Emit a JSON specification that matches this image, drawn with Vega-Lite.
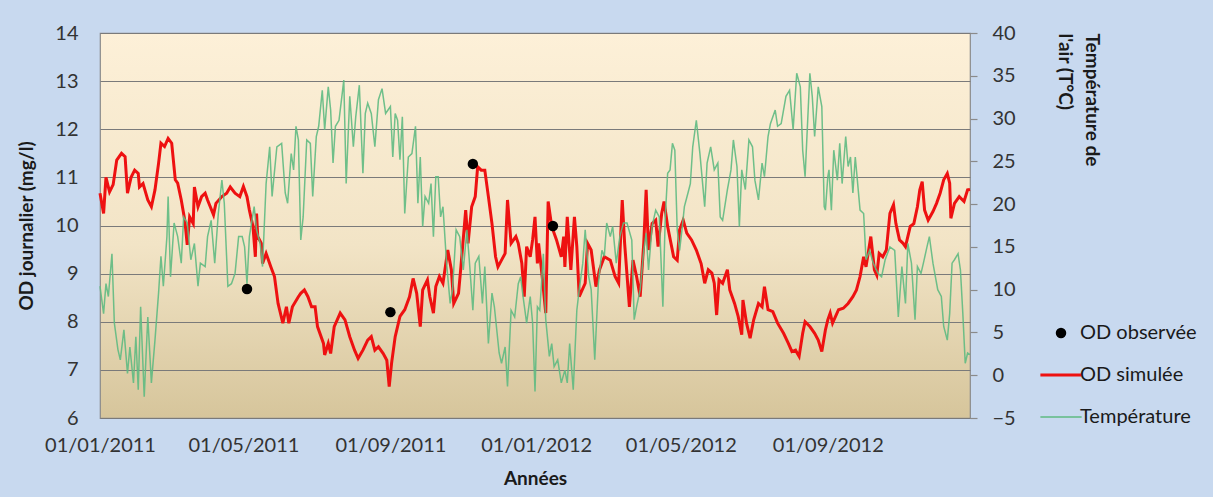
{
  "$schema": "https://vega.github.io/schema/vega-lite/v6.json",
  "width": 870,
  "height": 385,
  "autosize": {"type": "none"},
  "padding": {"left": 100, "top": 33, "right": 243, "bottom": 79},
  "background": "#C8D9EF",
  "config": {
    "font": "Lato",
    "view": {
      "stroke": "#8A8A8A",
      "strokeWidth": 1.2,
      "fill": {"gradient": "linear", "x1": 0, "y1": 0, "x2": 0, "y2": 1,
        "stops": [{"offset": 0, "color": "#FDF0D8"}, {"offset": 0.55, "color": "#F2E4C6"}, {"offset": 1, "color": "#D6C59B"}]}
    },
    "axis": {"labelFont": "Lato", "labelFontSize": 20, "labelColor": "#333333", "titleFont": "Lato", "titleFontSize": 19, "titleFontWeight": "bold", "titleColor": "#1A1A1A"}
  },
  "datasets": {
    "sim": [
      {"date": "2011-01-01", "od": 10.67}, {"date": "2011-01-04", "od": 10.25}, {"date": "2011-01-06", "od": 11.0}, {"date": "2011-01-09", "od": 10.7},
      {"date": "2011-01-12", "od": 10.85}, {"date": "2011-01-15", "od": 11.36}, {"date": "2011-01-19", "od": 11.5}, {"date": "2011-01-22", "od": 11.43},
      {"date": "2011-01-24", "od": 10.67}, {"date": "2011-01-27", "od": 11.0}, {"date": "2011-01-30", "od": 11.15}, {"date": "2011-02-02", "od": 11.08},
      {"date": "2011-02-03", "od": 10.8}, {"date": "2011-02-06", "od": 10.87}, {"date": "2011-02-10", "od": 10.53}, {"date": "2011-02-13", "od": 10.39},
      {"date": "2011-02-16", "od": 10.74}, {"date": "2011-02-19", "od": 11.29}, {"date": "2011-02-21", "od": 11.71}, {"date": "2011-02-24", "od": 11.64},
      {"date": "2011-02-27", "od": 11.81}, {"date": "2011-03-02", "od": 11.71}, {"date": "2011-03-05", "od": 10.95}, {"date": "2011-03-07", "od": 10.88},
      {"date": "2011-03-10", "od": 10.53}, {"date": "2011-03-13", "od": 10.1}, {"date": "2011-03-15", "od": 9.6}, {"date": "2011-03-17", "od": 10.18},
      {"date": "2011-03-20", "od": 10.04}, {"date": "2011-03-21", "od": 10.8}, {"date": "2011-03-24", "od": 10.39}, {"date": "2011-03-27", "od": 10.6},
      {"date": "2011-03-30", "od": 10.67}, {"date": "2011-04-01", "od": 10.53}, {"date": "2011-04-06", "od": 10.22}, {"date": "2011-04-08", "od": 10.46},
      {"date": "2011-04-13", "od": 10.6}, {"date": "2011-04-17", "od": 10.67}, {"date": "2011-04-20", "od": 10.8}, {"date": "2011-04-24", "od": 10.67},
      {"date": "2011-04-28", "od": 10.6}, {"date": "2011-05-01", "od": 10.81}, {"date": "2011-05-04", "od": 10.6}, {"date": "2011-05-06", "od": 10.32},
      {"date": "2011-05-09", "od": 9.98}, {"date": "2011-05-11", "od": 9.35}, {"date": "2011-05-12", "od": 10.25}, {"date": "2011-05-13", "od": 9.77},
      {"date": "2011-05-16", "od": 9.63}, {"date": "2011-05-17", "od": 9.21}, {"date": "2011-05-20", "od": 9.42}, {"date": "2011-05-24", "od": 9.14},
      {"date": "2011-05-27", "od": 8.94}, {"date": "2011-05-30", "od": 8.38}, {"date": "2011-06-03", "od": 7.97}, {"date": "2011-06-06", "od": 8.31},
      {"date": "2011-06-08", "od": 7.97}, {"date": "2011-06-11", "od": 8.31}, {"date": "2011-06-16", "od": 8.52}, {"date": "2011-06-18", "od": 8.59},
      {"date": "2011-06-21", "od": 8.66}, {"date": "2011-06-24", "od": 8.52}, {"date": "2011-06-27", "od": 8.31}, {"date": "2011-06-30", "od": 8.31},
      {"date": "2011-07-02", "od": 7.9}, {"date": "2011-07-07", "od": 7.55}, {"date": "2011-07-08", "od": 7.31}, {"date": "2011-07-11", "od": 7.55},
      {"date": "2011-07-13", "od": 7.34}, {"date": "2011-07-16", "od": 7.9}, {"date": "2011-07-21", "od": 8.18}, {"date": "2011-07-25", "od": 8.04},
      {"date": "2011-07-29", "od": 7.69}, {"date": "2011-08-02", "od": 7.41}, {"date": "2011-08-05", "od": 7.24}, {"date": "2011-08-09", "od": 7.41},
      {"date": "2011-08-13", "od": 7.62}, {"date": "2011-08-16", "od": 7.69}, {"date": "2011-08-19", "od": 7.41}, {"date": "2011-08-22", "od": 7.48},
      {"date": "2011-08-26", "od": 7.34}, {"date": "2011-08-29", "od": 7.2}, {"date": "2011-08-31", "od": 6.65}, {"date": "2011-09-02", "od": 7.14},
      {"date": "2011-09-05", "od": 7.69}, {"date": "2011-09-09", "od": 8.11}, {"date": "2011-09-13", "od": 8.25}, {"date": "2011-09-17", "od": 8.52},
      {"date": "2011-09-20", "od": 8.9}, {"date": "2011-09-23", "od": 8.59}, {"date": "2011-09-26", "od": 7.9}, {"date": "2011-09-28", "od": 8.66},
      {"date": "2011-10-02", "od": 8.87}, {"date": "2011-10-04", "od": 8.52}, {"date": "2011-10-07", "od": 8.18}, {"date": "2011-10-09", "od": 8.73},
      {"date": "2011-10-12", "od": 8.94}, {"date": "2011-10-15", "od": 8.8}, {"date": "2011-10-19", "od": 9.49}, {"date": "2011-10-22", "od": 9.08},
      {"date": "2011-10-24", "od": 8.38}, {"date": "2011-10-28", "od": 8.59}, {"date": "2011-10-30", "od": 9.14}, {"date": "2011-11-03", "od": 10.32},
      {"date": "2011-11-05", "od": 9.63}, {"date": "2011-11-08", "od": 10.39}, {"date": "2011-11-11", "od": 10.6}, {"date": "2011-11-13", "od": 11.22},
      {"date": "2011-11-16", "od": 11.15}, {"date": "2011-11-19", "od": 11.15}, {"date": "2011-11-22", "od": 10.6}, {"date": "2011-11-25", "od": 10.04},
      {"date": "2011-11-28", "od": 9.35}, {"date": "2011-11-30", "od": 9.14}, {"date": "2011-12-03", "od": 9.28}, {"date": "2011-12-06", "od": 9.42},
      {"date": "2011-12-08", "od": 10.53}, {"date": "2011-12-11", "od": 9.63}, {"date": "2011-12-15", "od": 9.77}, {"date": "2011-12-17", "od": 9.63},
      {"date": "2011-12-20", "od": 9.21}, {"date": "2011-12-22", "od": 8.52}, {"date": "2011-12-24", "od": 9.56}, {"date": "2011-12-27", "od": 9.35},
      {"date": "2011-12-29", "od": 9.7}, {"date": "2011-12-31", "od": 10.18}, {"date": "2012-01-02", "od": 9.21}, {"date": "2012-01-03", "od": 9.63},
      {"date": "2012-01-06", "od": 8.94}, {"date": "2012-01-09", "od": 8.18}, {"date": "2012-01-11", "od": 10.5}, {"date": "2012-01-14", "od": 9.98},
      {"date": "2012-01-18", "od": 9.7}, {"date": "2012-01-22", "od": 9.35}, {"date": "2012-01-24", "od": 9.77}, {"date": "2012-01-25", "od": 9.14},
      {"date": "2012-01-27", "od": 10.18}, {"date": "2012-01-30", "od": 9.08}, {"date": "2012-02-02", "od": 10.18}, {"date": "2012-02-04", "od": 9.56},
      {"date": "2012-02-06", "od": 8.52}, {"date": "2012-02-11", "od": 8.8}, {"date": "2012-02-13", "od": 9.63}, {"date": "2012-02-16", "od": 9.49},
      {"date": "2012-02-20", "od": 8.73}, {"date": "2012-02-23", "od": 9.08}, {"date": "2012-02-27", "od": 9.35}, {"date": "2012-03-03", "od": 9.28},
      {"date": "2012-03-07", "od": 8.94}, {"date": "2012-03-10", "od": 8.8}, {"date": "2012-03-13", "od": 10.53}, {"date": "2012-03-15", "od": 9.63},
      {"date": "2012-03-19", "od": 8.31}, {"date": "2012-03-22", "od": 9.28}, {"date": "2012-03-25", "od": 8.94}, {"date": "2012-03-28", "od": 8.52},
      {"date": "2012-03-31", "od": 9.63}, {"date": "2012-04-02", "od": 10.74}, {"date": "2012-04-04", "od": 9.49}, {"date": "2012-04-07", "od": 10.04},
      {"date": "2012-04-10", "od": 10.11}, {"date": "2012-04-12", "od": 9.56}, {"date": "2012-04-15", "od": 10.25}, {"date": "2012-04-17", "od": 10.5},
      {"date": "2012-04-20", "od": 9.98}, {"date": "2012-04-25", "od": 9.35}, {"date": "2012-04-28", "od": 9.28}, {"date": "2012-04-30", "od": 9.91},
      {"date": "2012-05-03", "od": 10.11}, {"date": "2012-05-06", "od": 9.84}, {"date": "2012-05-10", "od": 9.7}, {"date": "2012-05-14", "od": 9.49},
      {"date": "2012-05-18", "od": 9.21}, {"date": "2012-05-21", "od": 8.8}, {"date": "2012-05-24", "od": 9.08}, {"date": "2012-05-27", "od": 9.01},
      {"date": "2012-05-29", "od": 8.8}, {"date": "2012-05-31", "od": 8.14}, {"date": "2012-06-02", "od": 8.87}, {"date": "2012-06-05", "od": 8.8},
      {"date": "2012-06-09", "od": 9.08}, {"date": "2012-06-11", "od": 8.66}, {"date": "2012-06-15", "od": 8.38}, {"date": "2012-06-18", "od": 8.11},
      {"date": "2012-06-21", "od": 7.73}, {"date": "2012-06-22", "od": 8.45}, {"date": "2012-06-25", "od": 7.97}, {"date": "2012-06-28", "od": 7.66},
      {"date": "2012-07-01", "od": 8.04}, {"date": "2012-07-05", "od": 8.38}, {"date": "2012-07-08", "od": 8.31}, {"date": "2012-07-10", "od": 8.73},
      {"date": "2012-07-13", "od": 8.25}, {"date": "2012-07-17", "od": 8.21}, {"date": "2012-07-21", "od": 7.97}, {"date": "2012-07-26", "od": 7.76},
      {"date": "2012-07-30", "od": 7.55}, {"date": "2012-08-02", "od": 7.38}, {"date": "2012-08-05", "od": 7.41}, {"date": "2012-08-08", "od": 7.28},
      {"date": "2012-08-11", "od": 7.76}, {"date": "2012-08-13", "od": 8.0}, {"date": "2012-08-17", "od": 7.9}, {"date": "2012-08-21", "od": 7.76},
      {"date": "2012-08-24", "od": 7.62}, {"date": "2012-08-27", "od": 7.38}, {"date": "2012-08-30", "od": 7.83}, {"date": "2012-09-01", "od": 8.04},
      {"date": "2012-09-03", "od": 8.18}, {"date": "2012-09-05", "od": 7.97}, {"date": "2012-09-10", "od": 8.25}, {"date": "2012-09-14", "od": 8.28},
      {"date": "2012-09-18", "od": 8.38}, {"date": "2012-09-22", "od": 8.52}, {"date": "2012-09-25", "od": 8.66}, {"date": "2012-09-28", "od": 8.94},
      {"date": "2012-10-01", "od": 9.35}, {"date": "2012-10-03", "od": 9.14}, {"date": "2012-10-07", "od": 9.77}, {"date": "2012-10-10", "od": 9.08},
      {"date": "2012-10-12", "od": 8.97}, {"date": "2012-10-14", "od": 9.42}, {"date": "2012-10-17", "od": 9.35}, {"date": "2012-10-20", "od": 9.49},
      {"date": "2012-10-23", "od": 10.25}, {"date": "2012-10-26", "od": 10.43}, {"date": "2012-10-28", "od": 10.04}, {"date": "2012-10-31", "od": 9.7},
      {"date": "2012-11-03", "od": 9.63}, {"date": "2012-11-05", "od": 9.56}, {"date": "2012-11-09", "od": 9.98}, {"date": "2012-11-12", "od": 10.04},
      {"date": "2012-11-15", "od": 10.39}, {"date": "2012-11-17", "od": 10.74}, {"date": "2012-11-19", "od": 10.91}, {"date": "2012-11-21", "od": 10.32},
      {"date": "2012-11-24", "od": 10.11}, {"date": "2012-11-28", "od": 10.29}, {"date": "2012-12-01", "od": 10.46}, {"date": "2012-12-04", "od": 10.67},
      {"date": "2012-12-07", "od": 10.95}, {"date": "2012-12-10", "od": 11.08}, {"date": "2012-12-12", "od": 10.88}, {"date": "2012-12-13", "od": 10.15},
      {"date": "2012-12-16", "od": 10.46}, {"date": "2012-12-20", "od": 10.6}, {"date": "2012-12-24", "od": 10.5}, {"date": "2012-12-27", "od": 10.74},
      {"date": "2012-12-29", "od": 10.75}
    ],
    "temp": [
      {"date": "2011-01-01", "t": 10.4}, {"date": "2011-01-04", "t": 7.2}, {"date": "2011-01-06", "t": 10.7}, {"date": "2011-01-08", "t": 9.2},
      {"date": "2011-01-11", "t": 14.2}, {"date": "2011-01-13", "t": 6.1}, {"date": "2011-01-16", "t": 3.0}, {"date": "2011-01-18", "t": 1.8},
      {"date": "2011-01-21", "t": 5.3}, {"date": "2011-01-24", "t": 0.2}, {"date": "2011-01-26", "t": 3.3}, {"date": "2011-01-29", "t": -0.9},
      {"date": "2011-01-31", "t": 4.5}, {"date": "2011-02-02", "t": -1.7}, {"date": "2011-02-04", "t": 8.0}, {"date": "2011-02-07", "t": -2.5},
      {"date": "2011-02-10", "t": 6.8}, {"date": "2011-02-13", "t": -0.9}, {"date": "2011-02-16", "t": 4.1}, {"date": "2011-02-19", "t": 9.6},
      {"date": "2011-02-21", "t": 13.9}, {"date": "2011-02-23", "t": 10.4}, {"date": "2011-02-26", "t": 16.2}, {"date": "2011-02-27", "t": 20.9},
      {"date": "2011-03-01", "t": 11.5}, {"date": "2011-03-04", "t": 17.8}, {"date": "2011-03-07", "t": 16.2}, {"date": "2011-03-10", "t": 13.1},
      {"date": "2011-03-12", "t": 18.5}, {"date": "2011-03-15", "t": 17.8}, {"date": "2011-03-18", "t": 13.5}, {"date": "2011-03-21", "t": 15.4},
      {"date": "2011-03-24", "t": 10.4}, {"date": "2011-03-26", "t": 13.1}, {"date": "2011-03-30", "t": 12.7}, {"date": "2011-04-01", "t": 16.2},
      {"date": "2011-04-04", "t": 18.1}, {"date": "2011-04-07", "t": 13.1}, {"date": "2011-04-10", "t": 18.9}, {"date": "2011-04-13", "t": 22.8},
      {"date": "2011-04-15", "t": 20.1}, {"date": "2011-04-18", "t": 10.4}, {"date": "2011-04-21", "t": 10.7}, {"date": "2011-04-24", "t": 11.9},
      {"date": "2011-04-27", "t": 16.2}, {"date": "2011-04-30", "t": 16.2}, {"date": "2011-05-02", "t": 15.0}, {"date": "2011-05-04", "t": 10.7},
      {"date": "2011-05-06", "t": 16.2}, {"date": "2011-05-10", "t": 19.7}, {"date": "2011-05-12", "t": 17.0}, {"date": "2011-05-15", "t": 15.4},
      {"date": "2011-05-17", "t": 12.7}, {"date": "2011-05-20", "t": 22.4}, {"date": "2011-05-23", "t": 26.7}, {"date": "2011-05-25", "t": 20.9},
      {"date": "2011-05-29", "t": 26.7}, {"date": "2011-06-02", "t": 27.1}, {"date": "2011-06-05", "t": 21.3}, {"date": "2011-06-07", "t": 20.1},
      {"date": "2011-06-10", "t": 25.9}, {"date": "2011-06-12", "t": 24.0}, {"date": "2011-06-14", "t": 29.1}, {"date": "2011-06-16", "t": 27.5},
      {"date": "2011-06-18", "t": 15.8}, {"date": "2011-06-20", "t": 18.5}, {"date": "2011-06-23", "t": 27.5}, {"date": "2011-06-26", "t": 27.1},
      {"date": "2011-06-28", "t": 20.9}, {"date": "2011-07-01", "t": 27.9}, {"date": "2011-07-03", "t": 29.1}, {"date": "2011-07-06", "t": 33.3},
      {"date": "2011-07-08", "t": 28.7}, {"date": "2011-07-11", "t": 33.7}, {"date": "2011-07-13", "t": 31.0}, {"date": "2011-07-15", "t": 24.8},
      {"date": "2011-07-17", "t": 29.1}, {"date": "2011-07-20", "t": 29.8}, {"date": "2011-07-23", "t": 33.3}, {"date": "2011-07-24", "t": 34.5},
      {"date": "2011-07-26", "t": 22.4}, {"date": "2011-07-29", "t": 32.6}, {"date": "2011-08-01", "t": 26.7}, {"date": "2011-08-03", "t": 30.2},
      {"date": "2011-08-06", "t": 33.9}, {"date": "2011-08-09", "t": 23.6}, {"date": "2011-08-11", "t": 30.6}, {"date": "2011-08-13", "t": 31.8},
      {"date": "2011-08-16", "t": 30.6}, {"date": "2011-08-19", "t": 26.7}, {"date": "2011-08-22", "t": 32.2}, {"date": "2011-08-25", "t": 33.5},
      {"date": "2011-08-28", "t": 30.6}, {"date": "2011-08-30", "t": 31.0}, {"date": "2011-09-01", "t": 31.4}, {"date": "2011-09-03", "t": 25.5},
      {"date": "2011-09-05", "t": 30.6}, {"date": "2011-09-07", "t": 29.8}, {"date": "2011-09-09", "t": 25.2}, {"date": "2011-09-11", "t": 30.2},
      {"date": "2011-09-13", "t": 18.9}, {"date": "2011-09-16", "t": 25.5}, {"date": "2011-09-19", "t": 25.9}, {"date": "2011-09-22", "t": 29.1},
      {"date": "2011-09-24", "t": 20.1}, {"date": "2011-09-26", "t": 25.5}, {"date": "2011-09-28", "t": 17.4}, {"date": "2011-09-30", "t": 20.9},
      {"date": "2011-10-03", "t": 20.1}, {"date": "2011-10-05", "t": 22.4}, {"date": "2011-10-07", "t": 16.2}, {"date": "2011-10-09", "t": 23.2},
      {"date": "2011-10-11", "t": 23.2}, {"date": "2011-10-13", "t": 18.5}, {"date": "2011-10-15", "t": 19.7}, {"date": "2011-10-18", "t": 13.1},
      {"date": "2011-10-21", "t": 8.4}, {"date": "2011-10-23", "t": 10.0}, {"date": "2011-10-26", "t": 17.0}, {"date": "2011-10-29", "t": 16.2},
      {"date": "2011-11-01", "t": 12.3}, {"date": "2011-11-04", "t": 17.0}, {"date": "2011-11-06", "t": 13.5}, {"date": "2011-11-09", "t": 7.6},
      {"date": "2011-11-11", "t": 13.1}, {"date": "2011-11-14", "t": 13.9}, {"date": "2011-11-17", "t": 8.4}, {"date": "2011-11-19", "t": 12.7},
      {"date": "2011-11-22", "t": 3.7}, {"date": "2011-11-25", "t": 9.6}, {"date": "2011-11-27", "t": 8.0}, {"date": "2011-12-01", "t": 2.6},
      {"date": "2011-12-03", "t": 1.4}, {"date": "2011-12-06", "t": 3.3}, {"date": "2011-12-08", "t": -1.3}, {"date": "2011-12-11", "t": 7.6},
      {"date": "2011-12-14", "t": 6.8}, {"date": "2011-12-17", "t": 10.7}, {"date": "2011-12-19", "t": 11.5}, {"date": "2011-12-21", "t": 9.2},
      {"date": "2011-12-24", "t": 6.1}, {"date": "2011-12-27", "t": 9.2}, {"date": "2011-12-29", "t": 6.1}, {"date": "2011-12-31", "t": -1.9},
      {"date": "2012-01-02", "t": 8.0}, {"date": "2012-01-04", "t": 7.6}, {"date": "2012-01-07", "t": 14.2}, {"date": "2012-01-09", "t": 6.5},
      {"date": "2012-01-12", "t": 2.2}, {"date": "2012-01-14", "t": 3.7}, {"date": "2012-01-16", "t": 1.0}, {"date": "2012-01-19", "t": 1.8},
      {"date": "2012-01-22", "t": -0.9}, {"date": "2012-01-25", "t": 0.6}, {"date": "2012-01-27", "t": -0.9}, {"date": "2012-01-29", "t": 3.7},
      {"date": "2012-02-01", "t": -1.7}, {"date": "2012-02-04", "t": 7.6}, {"date": "2012-02-06", "t": 10.0}, {"date": "2012-02-09", "t": 13.1},
      {"date": "2012-02-11", "t": 17.0}, {"date": "2012-02-14", "t": 11.5}, {"date": "2012-02-16", "t": 10.0}, {"date": "2012-02-19", "t": 1.8},
      {"date": "2012-02-22", "t": 10.7}, {"date": "2012-02-25", "t": 14.6}, {"date": "2012-02-27", "t": 13.9}, {"date": "2012-02-29", "t": 17.8},
      {"date": "2012-03-03", "t": 16.2}, {"date": "2012-03-05", "t": 17.4}, {"date": "2012-03-08", "t": 13.1}, {"date": "2012-03-11", "t": 16.2},
      {"date": "2012-03-14", "t": 17.8}, {"date": "2012-03-17", "t": 17.8}, {"date": "2012-03-21", "t": 15.8}, {"date": "2012-03-23", "t": 6.5},
      {"date": "2012-03-25", "t": 8.0}, {"date": "2012-03-28", "t": 10.0}, {"date": "2012-03-31", "t": 14.6}, {"date": "2012-04-02", "t": 16.6},
      {"date": "2012-04-04", "t": 12.3}, {"date": "2012-04-07", "t": 17.4}, {"date": "2012-04-10", "t": 19.3}, {"date": "2012-04-13", "t": 18.5},
      {"date": "2012-04-16", "t": 8.0}, {"date": "2012-04-18", "t": 18.5}, {"date": "2012-04-20", "t": 23.6}, {"date": "2012-04-22", "t": 24.0},
      {"date": "2012-04-24", "t": 27.1}, {"date": "2012-04-26", "t": 26.3}, {"date": "2012-04-28", "t": 17.0}, {"date": "2012-04-30", "t": 14.6},
      {"date": "2012-05-02", "t": 17.0}, {"date": "2012-05-04", "t": 19.7}, {"date": "2012-05-07", "t": 21.3}, {"date": "2012-05-09", "t": 22.4},
      {"date": "2012-05-11", "t": 26.7}, {"date": "2012-05-14", "t": 29.8}, {"date": "2012-05-17", "t": 25.9}, {"date": "2012-05-21", "t": 19.7},
      {"date": "2012-05-23", "t": 24.8}, {"date": "2012-05-26", "t": 26.7}, {"date": "2012-05-29", "t": 24.0}, {"date": "2012-06-01", "t": 24.8},
      {"date": "2012-06-03", "t": 18.5}, {"date": "2012-06-05", "t": 18.1}, {"date": "2012-06-09", "t": 21.7}, {"date": "2012-06-12", "t": 24.0},
      {"date": "2012-06-14", "t": 27.5}, {"date": "2012-06-17", "t": 24.4}, {"date": "2012-06-19", "t": 17.4}, {"date": "2012-06-21", "t": 24.0},
      {"date": "2012-06-24", "t": 21.7}, {"date": "2012-06-27", "t": 27.5}, {"date": "2012-06-30", "t": 26.7}, {"date": "2012-07-02", "t": 22.8},
      {"date": "2012-07-05", "t": 20.5}, {"date": "2012-07-08", "t": 24.8}, {"date": "2012-07-10", "t": 23.2}, {"date": "2012-07-13", "t": 27.9},
      {"date": "2012-07-15", "t": 29.4}, {"date": "2012-07-19", "t": 31.0}, {"date": "2012-07-21", "t": 29.1}, {"date": "2012-07-24", "t": 29.4},
      {"date": "2012-07-28", "t": 32.6}, {"date": "2012-07-31", "t": 33.3}, {"date": "2012-08-03", "t": 28.7}, {"date": "2012-08-06", "t": 35.3},
      {"date": "2012-08-09", "t": 33.7}, {"date": "2012-08-11", "t": 26.3}, {"date": "2012-08-13", "t": 23.2}, {"date": "2012-08-17", "t": 35.3},
      {"date": "2012-08-19", "t": 32.6}, {"date": "2012-08-21", "t": 27.9}, {"date": "2012-08-24", "t": 33.7}, {"date": "2012-08-27", "t": 31.4},
      {"date": "2012-08-29", "t": 19.7}, {"date": "2012-08-30", "t": 19.3}, {"date": "2012-09-01", "t": 23.2}, {"date": "2012-09-02", "t": 24.0},
      {"date": "2012-09-04", "t": 19.3}, {"date": "2012-09-06", "t": 26.3}, {"date": "2012-09-09", "t": 22.8}, {"date": "2012-09-11", "t": 27.1},
      {"date": "2012-09-13", "t": 22.4}, {"date": "2012-09-16", "t": 27.9}, {"date": "2012-09-18", "t": 24.4}, {"date": "2012-09-20", "t": 25.5},
      {"date": "2012-09-22", "t": 21.3}, {"date": "2012-09-24", "t": 25.5}, {"date": "2012-09-26", "t": 22.4}, {"date": "2012-09-28", "t": 19.3},
      {"date": "2012-10-01", "t": 18.9}, {"date": "2012-10-03", "t": 13.5}, {"date": "2012-10-06", "t": 14.6}, {"date": "2012-10-09", "t": 13.1},
      {"date": "2012-10-13", "t": 11.9}, {"date": "2012-10-16", "t": 11.5}, {"date": "2012-10-19", "t": 13.5}, {"date": "2012-10-23", "t": 15.0},
      {"date": "2012-10-27", "t": 14.6}, {"date": "2012-10-30", "t": 6.8}, {"date": "2012-11-02", "t": 12.7}, {"date": "2012-11-05", "t": 8.4},
      {"date": "2012-11-07", "t": 15.4}, {"date": "2012-11-10", "t": 13.1}, {"date": "2012-11-13", "t": 6.5}, {"date": "2012-11-15", "t": 12.7},
      {"date": "2012-11-18", "t": 11.9}, {"date": "2012-11-20", "t": 13.1}, {"date": "2012-11-23", "t": 15.0}, {"date": "2012-11-25", "t": 16.2},
      {"date": "2012-11-28", "t": 13.1}, {"date": "2012-12-02", "t": 10.0}, {"date": "2012-12-05", "t": 9.2}, {"date": "2012-12-07", "t": 5.7},
      {"date": "2012-12-10", "t": 4.1}, {"date": "2012-12-12", "t": 7.2}, {"date": "2012-12-14", "t": 13.1}, {"date": "2012-12-16", "t": 13.5},
      {"date": "2012-12-19", "t": 14.2}, {"date": "2012-12-21", "t": 12.3}, {"date": "2012-12-23", "t": 7.2}, {"date": "2012-12-25", "t": 1.4},
      {"date": "2012-12-27", "t": 2.6}, {"date": "2012-12-29", "t": 2.4}
    ],
    "obs": [
      {"date": "2011-05-04", "od": 8.68},
      {"date": "2011-09-01", "od": 8.2},
      {"date": "2011-11-09", "od": 11.28},
      {"date": "2012-01-15", "od": 9.99}
    ]
  },
  "layer": [
    {
      "data": {"name": "sim"},
      "mark": {"type": "line", "strokeWidth": 3},
      "encoding": {
        "x": {
          "field": "date", "type": "temporal",
          "scale": {"type": "utc", "domain": [{"year": 2011, "month": 1, "date": 1, "utc": true}, {"year": 2012, "month": 12, "date": 29, "utc": true}]},
          "axis": {
            "title": "Années",
            "values": [
              {"year": 2011, "month": 1, "date": 1, "utc": true}, {"year": 2011, "month": 5, "date": 1, "utc": true},
              {"year": 2011, "month": 9, "date": 1, "utc": true}, {"year": 2012, "month": 1, "date": 1, "utc": true},
              {"year": 2012, "month": 5, "date": 1, "utc": true}, {"year": 2012, "month": 9, "date": 1, "utc": true}
            ],
            "format": "%d/%m/%Y",
            "ticks": false, "domain": false, "grid": false,
            "labelPadding": 17, "labelFlush": false, "labelOverlap": false, "labelBound": false,
            "titlePadding": 14
          }
        },
        "y": {
          "field": "od", "type": "quantitative",
          "scale": {"domain": [6, 14], "nice": false, "zero": false},
          "axis": {
            "title": "OD journalier (mg/l)", "orient": "left",
            "values": [6, 7, 8, 9, 10, 11, 12, 13, 14],
            "ticks": false, "domain": false,
            "grid": true, "gridColor": "#7A7A7A", "gridWidth": 1.2,
            "labelPadding": 22, "titlePadding": 18
          }
        },
        "color": {
          "datum": "OD simulée", "type": "nominal",
          "scale": {"domain": ["OD observée", "OD simulée", "Température"], "range": ["#000000", "#EE1111", "#5FBA82"]},
          "legend": {
            "title": null, "orient": "none", "direction": "vertical",
            "legendX": 951, "legendY": 290,
            "symbolSize": 2116, "symbolStrokeWidth": 2,
            "labelFont": "Lato", "labelFontSize": 20, "labelColor": "#1A1A1A", "labelOffset": 9,
            "rowPadding": 22,
            "encode": {
              "symbols": {
                "update": {
                  "shape": {"signal": "datum.value === 'OD observée' ? 'circle' : 'stroke'"},
                  "size": {"signal": "datum.value === 'OD observée' ? 110 : 1700"},
                  "strokeWidth": {"signal": "datum.value === 'OD simulée' ? 3 : (datum.value === 'Température' ? 1.5 : 0)"},
                  "fill": {"signal": "datum.value === 'OD observée' ? '#000000' : 'transparent'"},
                  "stroke": {"signal": "datum.value === 'OD simulée' ? '#EE1111' : (datum.value === 'Température' ? '#5FBA82' : '#000000')"},
                  "opacity": {"value": 1}
                }
              }
            }
          }
        }
      }
    },
    {
      "data": {"name": "temp"},
      "mark": {"type": "line", "strokeWidth": 1.5, "opacity": 0.9},
      "encoding": {
        "x": {"field": "date", "type": "temporal"},
        "y": {
          "field": "t", "type": "quantitative",
          "scale": {"domain": [-5, 40], "nice": false, "zero": false},
          "axis": {
            "title": ["Température de", "l'air (T°C)"], "orient": "right",
            "values": [-5, 0, 5, 10, 15, 20, 25, 30, 35, 40],
            "ticks": true, "tickSize": 7, "tickColor": "#8A8A8A", "tickWidth": 1.2,
            "domain": false, "grid": false,
            "labelPadding": 15,
            "titleAngle": 90, "titleAlign": "left", "titleBaseline": "top",
            "titleX": 130, "titleY": 0, "titleLineHeight": 27
          }
        },
        "color": {"datum": "Température", "type": "nominal", "scale": {"domain": ["OD observée", "OD simulée", "Température"], "range": ["#000000", "#EE1111", "#5FBA82"]}}
      }
    },
    {
      "data": {"name": "obs"},
      "mark": {"type": "point", "filled": true, "size": 110, "opacity": 1},
      "encoding": {
        "x": {"field": "date", "type": "temporal"},
        "y": {"field": "od", "type": "quantitative", "scale": {"domain": [6, 14], "nice": false, "zero": false}, "axis": null},
        "color": {"datum": "OD observée", "type": "nominal", "scale": {"domain": ["OD observée", "OD simulée", "Température"], "range": ["#000000", "#EE1111", "#5FBA82"]}}
      }
    }
  ],
  "resolve": {"scale": {"y": "independent"}}
}
